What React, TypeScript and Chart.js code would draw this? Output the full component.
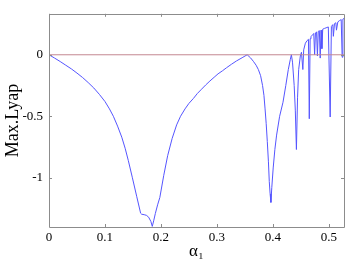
import React, { useEffect, useRef } from "react";
import { Chart, registerables } from "chart.js";

Chart.register(...registerables);

const alpha: number[] = [
  0, 0.01, 0.02, 0.03, 0.04, 0.05, 0.06, 0.07, 0.08, 0.09, 0.1, 0.108, 0.115, 0.1225, 0.13, 0.136, 0.1417, 0.149, 0.1566, 0.1637,
  0.1655, 0.17, 0.174, 0.178, 0.182, 0.1845, 0.187, 0.19, 0.194, 0.198,
  0.205, 0.212, 0.22, 0.228, 0.235, 0.243, 0.25, 0.258, 0.265, 0.2725, 0.28, 0.2875, 0.295, 0.302, 0.31, 0.317, 0.326, 0.335, 0.345, 0.354,
  0.36, 0.365, 0.37, 0.374, 0.378, 0.3815, 0.384, 0.386, 0.388, 0.39, 0.392, 0.3935, 0.395, 0.3964,
  0.398, 0.4005, 0.4035, 0.4066, 0.412, 0.418, 0.423, 0.4275, 0.431, 0.433,
  0.435, 0.438, 0.44, 0.442, 0.444, 0.446, 0.449, 0.451, 0.4535, 0.455, 0.458, 0.461, 0.4635,
  0.465, 0.4665, 0.468, 0.471, 0.473, 0.4745, 0.476, 0.478, 0.4795, 0.481, 0.483, 0.4845,
  0.486, 0.4875, 0.489, 0.492, 0.495, 0.499, 0.5023, 0.5045, 0.507, 0.508, 0.51, 0.5125,
  0.5135, 0.516, 0.519, 0.522, 0.5237, 0.525, 0.527,
];

const lyap: number[] = [
  0, -0.027, -0.055, -0.085, -0.115, -0.149, -0.185, -0.226, -0.27, -0.322, -0.38, -0.44, -0.5, -0.58, -0.67, -0.76, -0.86, -1.0, -1.15, -1.288,
  -1.296, -1.3, -1.305, -1.32, -1.355, -1.395, -1.35, -1.29, -1.22, -1.16,
  -0.98, -0.82, -0.68, -0.57, -0.5, -0.44, -0.395, -0.355, -0.315, -0.28, -0.245, -0.213, -0.183, -0.155, -0.13, -0.106, -0.077, -0.05, -0.024, 0,
  -0.025, -0.053, -0.085, -0.12, -0.17, -0.25, -0.33, -0.44, -0.56, -0.706, -0.87, -1.03, -1.13, -1.2,
  -1.08, -0.92, -0.77, -0.653, -0.5, -0.386, -0.25, -0.12, -0.04, 0,
  -0.06, -0.25, -0.45, -0.77, -0.35, -0.12, -0.01, 0.02, -0.12, 0.04, 0.094, 0.115, 0.125,
  -0.52, 0.13, 0.147, 0.163, 0.173, 0.0, 0.178, 0.185, -0.01, 0.19, 0.196, -0.027,
  0.2, 0.05, 0.208, 0.214, 0.219, 0.226, -0.506, 0.23, 0.245, 0.15, 0.253, 0.26,
  0.2, 0.267, 0.278, 0.286, -0.02, 0.29, 0.295,
];

const xMin = 0;
const xMax = 0.527;
const yMin = -1.4;
const yMax = 0.333;
const xTicks: number[] = [0, 0.1, 0.2, 0.3, 0.4, 0.5];
const yTicks: number[] = [-1, -0.5, 0];
const zeroLevel = 0;

const frameColor = "#8c8c8c";

const framePlugin = {
  id: "matlabFrame",
  afterDatasetsDraw(chart: any) {
    const { ctx, chartArea, scales } = chart;
    const { left, right, top, bottom } = chartArea;
    ctx.save();
    ctx.strokeStyle = frameColor;
    ctx.lineWidth = 1;
    ctx.beginPath();
    ctx.rect(Math.round(left) + 0.5, Math.round(top) + 0.5, Math.round(right - left), Math.round(bottom - top));
    ctx.stroke();
    const len = 3;
    ctx.beginPath();
    for (const t of scales.x.ticks) {
      const px = Math.round(scales.x.getPixelForValue(t.value)) + 0.5;
      ctx.moveTo(px, bottom);
      ctx.lineTo(px, bottom - len);
      ctx.moveTo(px, top);
      ctx.lineTo(px, top + len);
    }
    for (const t of scales.y.ticks) {
      const py = Math.round(scales.y.getPixelForValue(t.value)) + 0.5;
      ctx.moveTo(left, py);
      ctx.lineTo(left + len, py);
      ctx.moveTo(right, py);
      ctx.lineTo(right - len, py);
    }
    ctx.stroke();
    ctx.restore();
  },
};

export default function App() {
  const ref = useRef<HTMLCanvasElement | null>(null);
  useEffect(() => {
    document.body.style.margin = "0";
    const canvas = ref.current;
    if (!canvas) return;
    const chart = new Chart(canvas, {
      type: "line",
      data: {
        datasets: [
          {
            label: "zero",
            data: [
              { x: xMin, y: zeroLevel },
              { x: xMax, y: zeroLevel },
            ],
            borderColor: "rgb(195,135,145)",
            borderWidth: 1,
            pointRadius: 0,
            tension: 0,
          },
          {
            label: "Max.Lyap",
            data: alpha.map((a, i) => ({ x: a, y: lyap[i] })),
            borderColor: "rgb(85,85,255)",
            borderWidth: 1,
            pointRadius: 0,
            tension: 0,
          },
        ],
      },
      options: {
        animation: false,
        responsive: false,
        maintainAspectRatio: false,
        layout: { padding: { left: 0, top: 10, right: 7, bottom: 0 } },
        plugins: { legend: { display: false }, tooltip: { enabled: false } },
        scales: {
          x: {
            type: "linear",
            min: xMin,
            max: xMax,
            grid: { display: false, drawTicks: false },
            border: { display: false },
            afterBuildTicks: (scale: any) => {
              scale.ticks = xTicks.map((v) => ({ value: v }));
            },
            afterFit: (scale: any) => {
              scale.height = 47;
            },
            ticks: {
              padding: 3,
              color: "#000",
              font: { family: "'Liberation Serif', serif", size: 13 },
              callback: (v: any) => String(v),
              maxRotation: 0,
            },
            title: {
              display: true,
              text: "α₁",
              color: "#000",
              font: { family: "'Liberation Serif', serif", size: 17 },
              padding: { top: 0, bottom: 12 },
            },
          },
          y: {
            type: "linear",
            min: yMin,
            max: yMax,
            grid: { display: false, drawTicks: false },
            border: { display: false },
            afterBuildTicks: (scale: any) => {
              scale.ticks = yTicks.map((v) => ({ value: v }));
            },
            afterFit: (scale: any) => {
              scale.width = 49;
            },
            ticks: {
              padding: 6,
              color: "#000",
              font: { family: "'Liberation Serif', serif", size: 13 },
              callback: (v: any) => String(v),
            },
            title: {
              display: true,
              text: "Max.Lyap",
              color: "#000",
              font: { family: "'Liberation Serif', serif", size: 18 },
              padding: { top: 2, bottom: 0 },
            },
          },
        },
      },
      plugins: [framePlugin],
    });
    return () => chart.destroy();
  }, []);
  return (
    <div style={{ position: "absolute", left: 0, top: 0, width: 351, height: 274 }}>
      <canvas ref={ref} width={351} height={274} style={{ width: 351, height: 274, display: "block" }} />
    </div>
  );
}
